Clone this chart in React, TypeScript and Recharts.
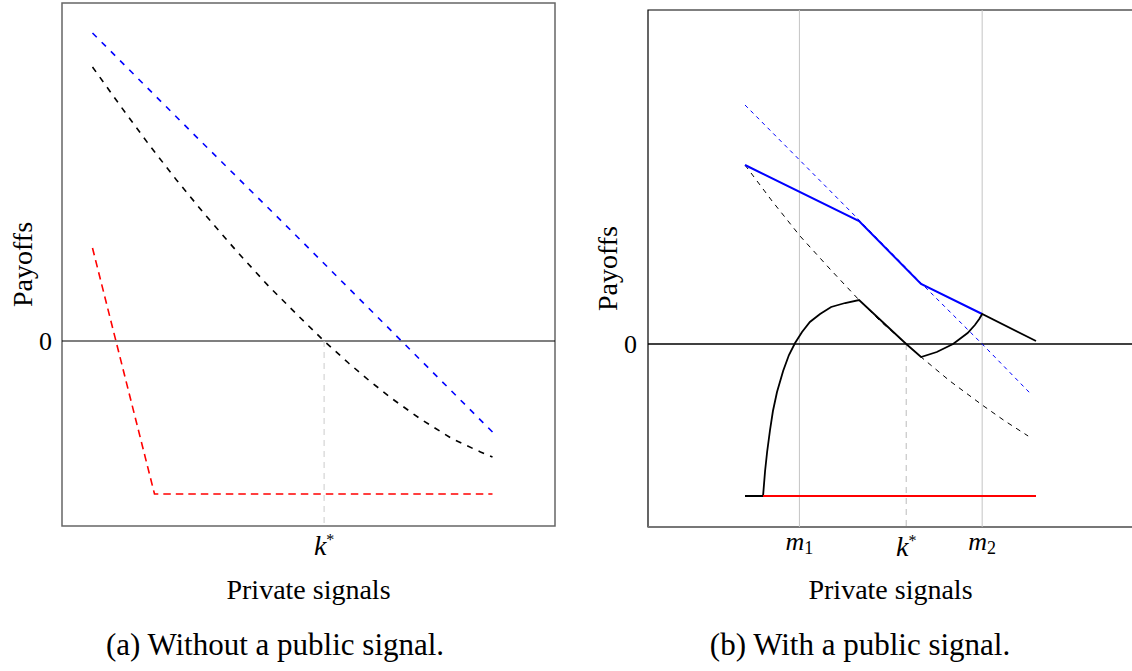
import React from "react";
import { LineChart, Line, XAxis, YAxis, ReferenceLine, ReferenceArea } from "recharts";

const FONT = "'Liberation Serif', 'Times New Roman', serif";

// (a) Without a public signal: signals run 0..1, payoffs in plot units
const aBlueX = [0, 0.25, 0.5, 0.75, 1];
const aBlue = [3.08, 2.08, 1.09, 0.09, -0.91];
const aBlackX = [0, 0.07, 0.14, 0.21, 0.28, 0.36, 0.44, 0.52, 0.579, 0.64, 0.69, 0.75, 0.82, 0.9, 0.97, 1];
const aBlack = [2.74, 2.35, 1.97, 1.61, 1.27, 0.9, 0.55, 0.23, 0, -0.22, -0.39, -0.58, -0.78, -0.98, -1.11, -1.16];
const aRedX = [0, 0.155, 1];
const aRed = [0.93, -1.53, -1.53];
const aTicks = [0.579];
const aTickLabels = ["k*"];

// (b) With a public signal
const bBlueDashX = [0, 0.392, 0.605, 0.815, 0.979];
const bBlueDash = [2.39, 1.24, 0.61, 0, -0.49];
const bBlackDashX = [0, 0.093, 0.189, 0.292, 0.392, 0.464, 0.554, 0.605, 0.704, 0.815, 0.893, 0.973];
const bBlackDash = [1.79, 1.43, 1.08, 0.75, 0.44, 0.23, 0, -0.13, -0.37, -0.61, -0.77, -0.92];
const bBlueX = [0, 0.392, 0.605, 0.815];
const bBlue = [1.79, 1.23, 0.6, 0.3];
const bBlackX = [0, 0.062, 0.069, 0.076, 0.086, 0.096, 0.11, 0.131, 0.151, 0.172, 0.196, 0.223, 0.258, 0.296, 0.344, 0.392, 0.554, 0.605, 0.659, 0.715, 0.765, 0.79, 0.805, 0.815, 1];
const bBlack = [-1.52, -1.52, -1.27, -1.08, -0.86, -0.67, -0.48, -0.27, -0.11, 0.01, 0.12, 0.22, 0.3, 0.37, 0.41, 0.44, 0, -0.13, -0.08, 0, 0.11, 0.19, 0.25, 0.3, 0.03];
const bRedX = [0.062, 1];
const bRed = [-1.52, -1.52];
const bTicks = [0.187, 0.554, 0.815];
const bTickLabels = ["m1", "k*", "m2"];

const pts = (xs: number[], ys: number[]) => xs.map((x, i) => ({ x, y: ys[i] }));

// draws k* / m1 / m2 like the TeX labels (top-anchored)
const signalTick = (labels: string[]) => (props: any) => {
  const { x, y, index } = props;
  const lab = labels[index] || "";
  if (lab.startsWith("m")) {
    return (
      <text x={x} y={y + 21} textAnchor="middle" fontFamily={FONT} fontSize={26} fill="#000">
        <tspan fontStyle="italic">m</tspan>
        <tspan fontSize={18} dy={4}>{lab.slice(1)}</tspan>
      </text>
    );
  }
  return (
    <text x={x} y={y + 27} textAnchor="middle" fontFamily={FONT} fontSize={28} fill="#000">
      <tspan fontStyle="italic">k</tspan>
      <tspan fontSize={16} dy={-10}>*</tspan>
    </text>
  );
};

const xLabel = (dy: number) => (props: any) => {
  const vb = props.viewBox;
  return (
    <text x={vb.x + vb.width / 2} y={vb.y + dy} textAnchor="middle" fontFamily={FONT} fontSize={28} fill="#000">
      Private signals
    </text>
  );
};

const yLabel = (dx: number) => (props: any) => {
  const vb = props.viewBox;
  const cx = vb.x + vb.width - dx;
  const cy = vb.y + vb.height / 2;
  return (
    <text x={cx} y={cy} transform={`rotate(-90 ${cx} ${cy})`} textAnchor="middle" dominantBaseline="central" fontFamily={FONT} fontSize={28} fill="#000">
      Payoffs
    </text>
  );
};

const zeroTick = { fontFamily: FONT, fontSize: 26, fill: "#000" };

const PanelA = () => {
  const xd = [-0.07625, 1.15625];
  const yd = [-1.85, 3.38];
  return (
    <LineChart width={580} height={620} margin={{ top: 3, left: 2, right: 25, bottom: 34 }}>
      <XAxis type="number" dataKey="x" domain={xd} allowDataOverflow height={60} ticks={aTicks} interval={0}
        axisLine={false} tickLine={false} tickSize={0} tick={signalTick(aTickLabels)} label={{ content: xLabel(73) }} />
      <YAxis type="number" domain={yd} allowDataOverflow width={60} ticks={[0]} axisLine={false} tickLine={false}
        tickSize={0} tickMargin={10} tick={zeroTick} label={{ content: yLabel(40) }} />
      <ReferenceArea x1={xd[0]} x2={xd[1]} y1={yd[0]} y2={yd[1]} fill="none" stroke="#666" strokeWidth={1.5} />
      <ReferenceLine y={0} stroke="#000" strokeWidth={1.2} />
      <ReferenceLine segment={[{ x: aTicks[0], y: 0 }, { x: aTicks[0], y: yd[0] }]} stroke="#ccc" strokeDasharray="6 5" />
      <Line data={pts(aRedX, aRed)} dataKey="y" stroke="#ff0000" strokeWidth={1.6} strokeDasharray="7.5 5" dot={false} activeDot={false} isAnimationActive={false} />
      <Line data={pts(aBlackX, aBlack)} dataKey="y" stroke="#000" strokeWidth={1.6} strokeDasharray="6 6.5" dot={false} activeDot={false} isAnimationActive={false} />
      <Line data={pts(aBlueX, aBlue)} dataKey="y" stroke="#0000ff" strokeWidth={1.6} strokeDasharray="6 7" dot={false} activeDot={false} isAnimationActive={false} />
    </LineChart>
  );
};

const PanelB = () => {
  const xd = [-1 / 3, 4 / 3];
  const yd = [-1.83, 3.34];
  return (
    <LineChart width={640} height={620} margin={{ top: 10, left: 0, right: 67, bottom: 33 }}>
      <XAxis type="number" dataKey="x" domain={xd} allowDataOverflow height={60} ticks={bTicks} interval={0}
        axisLine={false} tickLine={false} tickSize={0} tick={signalTick(bTickLabels)} label={{ content: xLabel(72) }} />
      <YAxis type="number" domain={yd} allowDataOverflow width={88} ticks={[0]} axisLine={false} tickLine={false}
        tickSize={0} tickMargin={11} tick={zeroTick} label={{ content: yLabel(41) }} />
      <ReferenceArea x1={xd[0]} x2={xd[1]} y1={yd[0]} y2={yd[1]} fill="none" stroke="#000" strokeWidth={1.2} />
      <ReferenceLine y={yd[0]} stroke="#777" strokeWidth={2} />
      <ReferenceLine x={bTicks[0]} stroke="#c4c4c4" strokeWidth={1} />
      <ReferenceLine x={bTicks[2]} stroke="#c4c4c4" strokeWidth={1} />
      <ReferenceLine y={0} stroke="#000" strokeWidth={1.3} />
      <ReferenceLine segment={[{ x: bTicks[1], y: 0 }, { x: bTicks[1], y: yd[0] }]} stroke="#bbb" strokeDasharray="6 5" />
      <Line data={pts(bBlueDashX, bBlueDash)} dataKey="y" stroke="#0000ff" strokeWidth={1} strokeDasharray="4 4" dot={false} activeDot={false} isAnimationActive={false} />
      <Line data={pts(bBlackDashX, bBlackDash)} dataKey="y" stroke="#000" strokeWidth={1} strokeDasharray="5 5" dot={false} activeDot={false} isAnimationActive={false} />
      <Line data={pts(bBlueX, bBlue)} dataKey="y" stroke="#0000ff" strokeWidth={2} dot={false} activeDot={false} isAnimationActive={false} />
      <Line data={pts(bBlackX, bBlack)} dataKey="y" stroke="#000" strokeWidth={1.8} dot={false} activeDot={false} isAnimationActive={false} />
      <Line data={pts(bRedX, bRed)} dataKey="y" stroke="#ff0000" strokeWidth={2} dot={false} activeDot={false} isAnimationActive={false} />
    </LineChart>
  );
};

const caption: React.CSSProperties = {
  position: "absolute", top: 629, width: 600, textAlign: "center",
  fontFamily: FONT, fontSize: 31, lineHeight: "31px", color: "#000",
};

export default function App() {
  return (
    <div style={{ position: "absolute", left: 0, top: 0, width: 1132, height: 671, overflow: "hidden", background: "#fff" }}>
      <div style={{ position: "absolute", left: 0, top: 0 }}>
        <PanelA />
      </div>
      <div style={{ position: "absolute", left: 560, top: 0 }}>
        <PanelB />
      </div>
      <div style={{ ...caption, left: -25 }}>(a) Without a public signal.</div>
      <div style={{ ...caption, left: 560 }}>(b) With a public signal.</div>
    </div>
  );
}
